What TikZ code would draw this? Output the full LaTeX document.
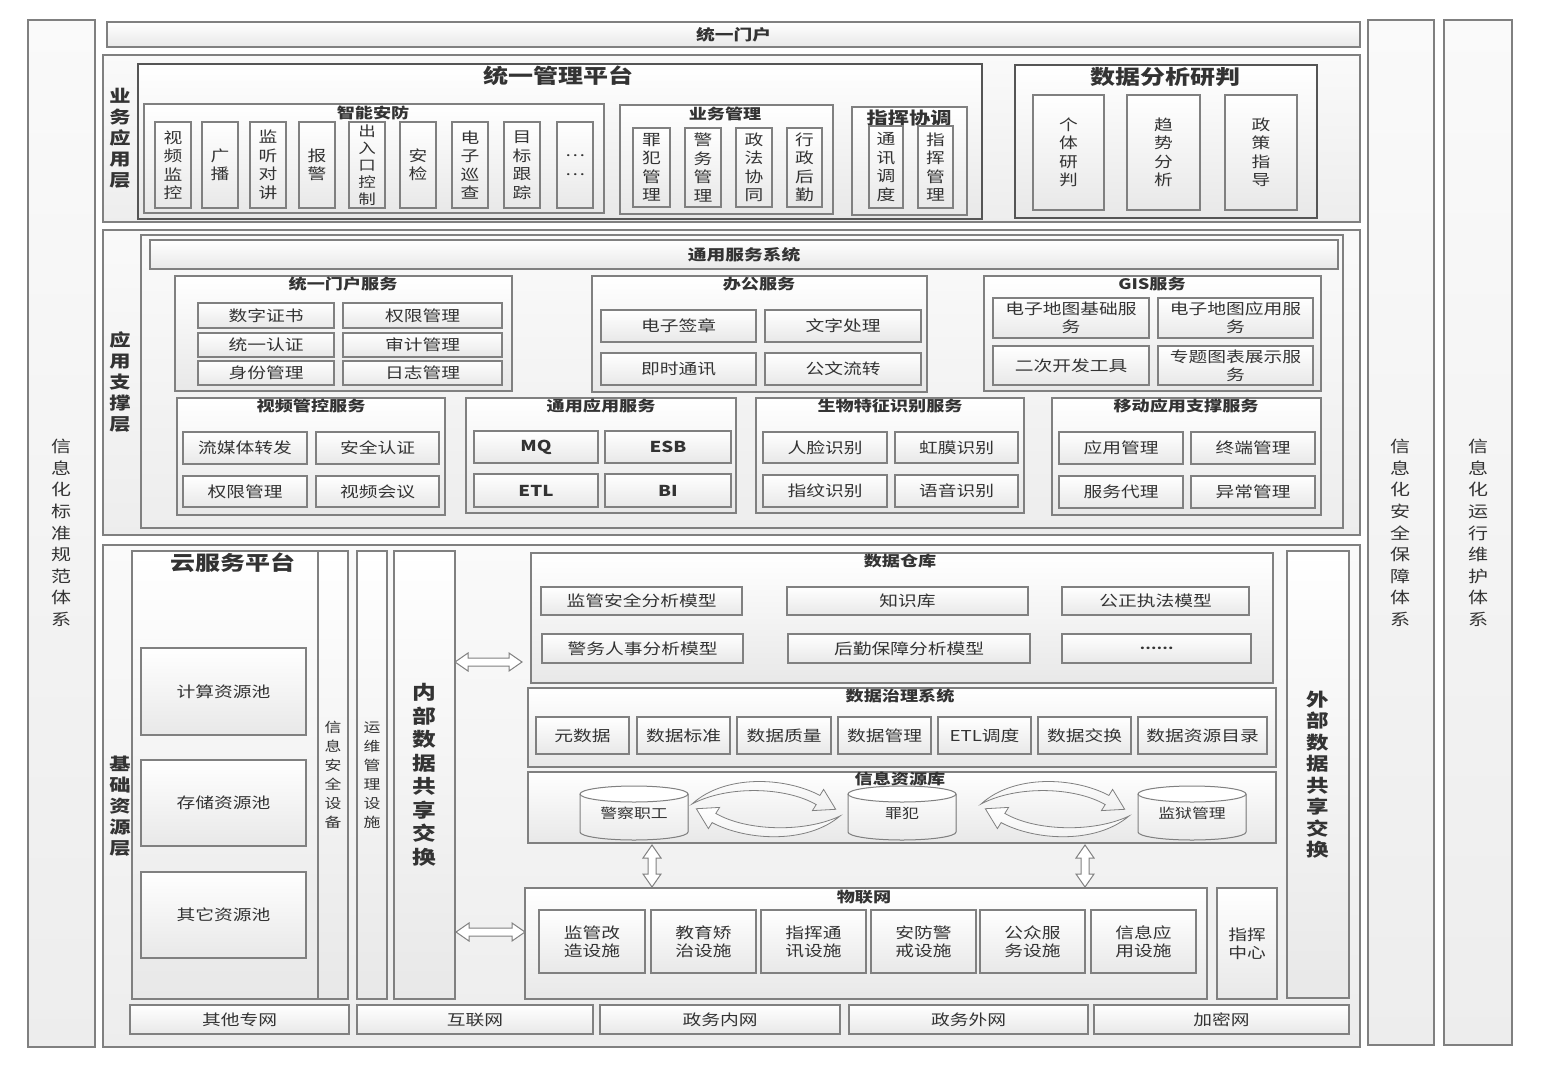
\documentclass[tikz,border=0pt]{standalone}
\usepackage{fontspec}
\setmainfont{Noto Sans CJK SC}[FakeStretch=1.25]
\usetikzlibrary{calc}
\definecolor{bc}{HTML}{808080}
\definecolor{tc}{HTML}{333333}
\definecolor{thk}{HTML}{555555}
\newcommand\fsz[2]{\fontsize{#1}{#2}\selectfont}
\newcommand\bx[7][]{\node[box,minimum width={#5-#3},minimum height={#6-#4},#1] (#2) at ({(#3+#5)/2},{(#4+#6)/2}) {#7};}
\newcommand\cyl[6]{%
 \pgfmathsetmacro\cylcx{(#2+#4)/2}\pgfmathsetmacro\cylrx{(#4-#2)/2}%
 \fill[top color=white,bottom color=black!8] (#2,#3+8) -- (#2,#5-8) arc[start angle=180,end angle=0,x radius=\cylrx,y radius=8] -- (#4,#3+8) arc[start angle=0,end angle=-180,x radius=\cylrx,y radius=8] -- cycle;
 \draw[draw=bc,line width=1pt] (#2,#3+8) -- (#2,#5-8) arc[start angle=180,end angle=0,x radius=\cylrx,y radius=8] -- (#4,#3+8);
 \draw[draw=bc,line width=1pt,fill=white] (\cylcx,#3+8) ellipse[x radius=\cylrx,y radius=8];
 \node[text=tc,font=\fsz{13.5}{16},inner sep=0pt] (#1) at (\cylcx,{(#3+#5)/2}) {#6};}
\newcommand\hdarrow[3]{\draw[blk] (#1,#3) -- (#1+13,#3-9) -- (#1+13,#3-4) -- (#2-13,#3-4) -- (#2-13,#3-9) -- (#2,#3) -- (#2-13,#3+9) -- (#2-13,#3+4) -- (#1+13,#3+4) -- (#1+13,#3+9) -- cycle;}
\newcommand\vdarrow[3]{\draw[blk] (#1,#2) -- (#1+9,#2+13) -- (#1+4,#2+13) -- (#1+4,#3-13) -- (#1+9,#3-13) -- (#1,#3) -- (#1-9,#3-13) -- (#1-4,#3-13) -- (#1-4,#2+13) -- (#1-9,#2+13) -- cycle;}
\newcommand\curvpair{%
\draw[carrow] (692,804) .. controls (725,774) and (785,777) .. (819.9,795.4) -- (823.6,789.4) -- (835.7,809.3) -- (812.4,810.6) -- (816.2,804.6) .. controls (786,787) and (728,785) .. (692,804) -- cycle;
\draw[carrow] (840,816) .. controls (807,844) and (747,841) .. (712.1,822.6) -- (708.4,828.6) -- (696.3,808.7) -- (719.6,807.4) -- (715.8,813.4) .. controls (746,831) and (804,833) .. (840,816) -- cycle;}
\begin{document}
\begin{tikzpicture}[x=1pt,y=-1pt,
 box/.style={draw=bc,line width=1.1pt,top color=white,bottom color=black!9,inner sep=0pt,outer sep=0pt,text=tc,font=\fsz{15}{19},align=center},
 pane/.style={line width=1.3pt,top color=black!2,bottom color=black!7},
 heavy/.style={draw=thk,line width=2.6pt},
 ttl/.style={text=tc,font=\bfseries\fsz{14.5}{18},inner sep=0pt},
 big/.style={text=black!80,font=\bfseries\fsz{20}{24},inner sep=0pt},
 lbl/.style={text=tc,font=\bfseries\fsz{17}{21},align=center,inner sep=0pt},
 side/.style={text=tc,font=\fsz{16}{21.6},align=center,inner sep=0pt},
 vt/.style={font=\fsz{15}{18.5}},
 blk/.style={draw=bc,line width=1pt,fill=white},
 carrow/.style={draw=bc,line width=0.8pt,top color=white,bottom color=black!6}]
\fill[white] (0,0) rectangle (1549,1066);
\useasboundingbox (0,0) rectangle (1549,1066);

% side strips
\bx[pane]{std}{28}{20}{95}{1047}{}
\node[side] (stdt) at (61,533) {信\\息\\化\\标\\准\\规\\范\\体\\系};
\bx[pane]{sec}{1368}{20}{1434}{1045}{}
\node[side] (sect) at (1400,533) {信\\息\\化\\安\\全\\保\\障\\体\\系};
\bx[pane]{ops}{1444}{20}{1512}{1045}{}
\node[side] (opst) at (1478,533) {信\\息\\化\\运\\行\\维\\护\\体\\系};

% top portal
\bx[font=\bfseries\fsz{15}{18}]{portal}{107}{22}{1360}{47}{统一门户}

% ===== layer 1 =====
\bx[pane]{L1}{103}{55}{1360}{222}{}
\node[lbl] (L1t) at (120,138) {业\\务\\应\\用\\层};
\bx[heavy]{umg}{138}{64}{982}{219}{}
\node[big] (umgt) at (558,76) {统一管理平台};
\bx{znaf}{144}{104}{604}{213}{}
\node[ttl] (znaft) at (373,113) {智能安防};
\bx[vt]{a1}{155}{122}{191}{208}{视\\频\\监\\控}
\bx[vt]{a2}{202}{122}{238}{208}{广\\播}
\bx[vt]{a3}{250}{122}{286}{208}{监\\听\\对\\讲}
\bx[vt]{a4}{299}{122}{335}{208}{报\\警}
\bx[font=\fsz{14}{17}]{a5}{349}{122}{385}{208}{出\\入\\口\\控\\制}
\bx[vt]{a6}{400}{122}{436}{208}{安\\检}
\bx[vt]{a7}{452}{122}{488}{208}{电\\子\\巡\\查}
\bx[vt]{a8}{504}{122}{540}{208}{目\\标\\跟\\踪}
\bx[vt]{a9}{557}{122}{593}{208}{…\\…}
\bx{ywgl}{620}{105}{833}{214}{}
\node[ttl] (ywglt) at (725,114) {业务管理};
\bx[vt]{b1}{633}{128}{670}{207}{罪\\犯\\管\\理}
\bx[vt]{b2}{685}{128}{721}{207}{警\\务\\管\\理}
\bx[vt]{b3}{736}{128}{772}{207}{政\\法\\协\\同}
\bx[vt]{b4}{787}{128}{822}{207}{行\\政\\后\\勤}
\bx{zhxt}{852}{107}{967}{215}{}
\node[ttl,font=\bfseries\fsz{17}{20}] (zhxtt) at (909,118) {指挥协调};
\bx[vt]{c1}{869}{126}{903}{208}{通\\讯\\调\\度}
\bx[vt]{c2}{918}{126}{953}{208}{指\\挥\\管\\理}
\bx[heavy]{sjfx}{1015}{65}{1317}{218}{}
\node[big] (sjfxt) at (1165,77) {数据分析研判};
\bx[vt]{d1}{1033}{95}{1104}{210}{个\\体\\研\\判}
\bx[vt]{d2}{1127}{95}{1200}{210}{趋\\势\\分\\析}
\bx[vt]{d3}{1225}{95}{1297}{210}{政\\策\\指\\导}

% ===== layer 2 =====
\bx[pane]{L2}{103}{230}{1360}{535}{}
\node[lbl] (L2t) at (120,382) {应\\用\\支\\撑\\层};
\bx[pane]{L2in}{141}{235}{1343}{528}{}
\bx[font=\bfseries\fsz{15}{18}]{tyfw}{150}{240}{1338}{269}{通用服务系统}
\bx{mhfw}{175}{276}{512}{391}{}
\node[ttl] (mhfwt) at (343,284) {统一门户服务};
\bx{e1}{198}{303}{334}{328}{数字证书}
\bx{e2}{343}{303}{502}{328}{权限管理}
\bx{e3}{198}{333}{334}{357}{统一认证}
\bx{e4}{343}{333}{502}{357}{审计管理}
\bx{e5}{198}{361}{334}{385}{身份管理}
\bx{e6}{343}{361}{502}{385}{日志管理}
\bx{bgfw}{592}{276}{927}{392}{}
\node[ttl] (bgfwt) at (759,284) {办公服务};
\bx{f1}{601}{310}{756}{342}{电子签章}
\bx{f2}{765}{310}{921}{342}{文字处理}
\bx{f3}{601}{353}{756}{385}{即时通讯}
\bx{f4}{765}{353}{921}{385}{公文流转}
\bx{gis}{984}{276}{1321}{391}{}
\node[ttl] (gist) at (1152,284) {GIS服务};
\bx[font=\fsz{15}{18}]{g1}{993}{298}{1149}{338}{电子地图基础服\\务}
\bx[font=\fsz{15}{18}]{g2}{1158}{298}{1313}{338}{电子地图应用服\\务}
\bx{g3}{993}{346}{1149}{385}{二次开发工具}
\bx[font=\fsz{15}{18}]{g4}{1158}{346}{1313}{385}{专题图表展示服\\务}
\bx{spgk}{177}{398}{445}{515}{}
\node[ttl] (spgkt) at (311,406) {视频管控服务};
\bx{h1}{183}{432}{307}{464}{流媒体转发}
\bx{h2}{316}{432}{439}{464}{安全认证}
\bx{h3}{183}{476}{307}{507}{权限管理}
\bx{h4}{316}{476}{439}{507}{视频会议}
\bx{tyyy}{466}{398}{736}{513}{}
\node[ttl] (tyyyt) at (601,406) {通用应用服务};
\bx[font=\bfseries\fsz{15}{18}]{i1}{474}{431}{598}{463}{MQ}
\bx[font=\bfseries\fsz{15}{18}]{i2}{605}{431}{731}{463}{ESB}
\bx[font=\bfseries\fsz{15}{18}]{i3}{474}{474}{598}{507}{ETL}
\bx[font=\bfseries\fsz{15}{18}]{i4}{605}{474}{731}{507}{BI}
\bx{swtz}{756}{398}{1024}{513}{}
\node[ttl] (swtzt) at (890,406) {生物特征识别服务};
\bx{j1}{763}{432}{887}{463}{人脸识别}
\bx{j2}{895}{432}{1018}{463}{虹膜识别}
\bx{j3}{763}{475}{887}{507}{指纹识别}
\bx{j4}{895}{475}{1018}{507}{语音识别}
\bx{ydyy}{1052}{398}{1321}{515}{}
\node[ttl] (ydyyt) at (1186,406) {移动应用支撑服务};
\bx{k1}{1059}{432}{1183}{464}{应用管理}
\bx{k2}{1191}{432}{1315}{464}{终端管理}
\bx{k3}{1059}{476}{1183}{508}{服务代理}
\bx{k4}{1191}{476}{1315}{508}{异常管理}

% ===== layer 3 =====
\bx[pane]{L3}{103}{545}{1360}{1047}{}
\node[lbl] (L3t) at (120,806) {基\\础\\资\\源\\层};
\bx{yfw}{132}{551}{318}{999}{}
\node[big] (yfwt) at (233,563) {云服务平台};
\bx{p1}{141}{648}{306}{735}{计算资源池}
\bx{p2}{141}{760}{306}{846}{存储资源池}
\bx{p3}{141}{872}{306}{958}{其它资源池}
\bx[font=\fsz{13.5}{19}]{xxaq}{318}{551}{348}{999}{信\\息\\安\\全\\设\\备}
\bx[font=\fsz{13.5}{19}]{ywss}{357}{551}{387}{999}{运\\维\\管\\理\\设\\施}
\bx[font=\bfseries\fsz{19}{23.5}]{nbsj}{394}{551}{455}{999}{内\\部\\数\\据\\共\\享\\交\\换}

\bx{sjck}{531}{553}{1273}{683}{}
\node[ttl] (sjckt) at (900,561) {数据仓库};
\bx{m1}{541}{587}{742}{615}{监管安全分析模型}
\bx{m2}{787}{587}{1028}{615}{知识库}
\bx{m3}{1062}{587}{1249}{615}{公正执法模型}
\bx{m4}{542}{634}{743}{663}{警务人事分析模型}
\bx{m5}{788}{634}{1030}{663}{后勤保障分析模型}
\bx[font=\bfseries\fsz{12}{14}]{m6}{1062}{634}{1251}{663}{……}

\bx{sjzl}{528}{688}{1276}{767}{}
\node[ttl] (sjzlt) at (900,696) {数据治理系统};
\bx{n1}{536}{717}{629}{754}{元数据}
\bx{n2}{637}{717}{730}{754}{数据标准}
\bx{n3}{737}{717}{831}{754}{数据质量}
\bx{n4}{838}{717}{931}{754}{数据管理}
\bx{n5}{938}{717}{1031}{754}{ETL调度}
\bx{n6}{1038}{717}{1131}{754}{数据交换}
\bx{n7}{1138}{717}{1267}{754}{数据资源目录}

\bx{xxzy}{528}{772}{1276}{843}{}
\node[ttl] (xxzyt) at (900,779) {信息资源库};
\cyl{q1}{580}{786}{688}{840}{警察职工}
\cyl{q2}{848}{786}{956}{840}{罪犯}
\cyl{q3}{1138}{786}{1246}{840}{监狱管理}
\curvpair
\begin{scope}[xshift=289pt]\curvpair\end{scope}

\bx{wlw}{525}{888}{1207}{999}{}
\node[ttl] (wlwt) at (864,897) {物联网};
\bx[font=\fsz{15}{18}]{r1}{539}{910}{645}{973}{监管改\\造设施}
\bx[font=\fsz{15}{18}]{r2}{651}{910}{756}{973}{教育矫\\治设施}
\bx[font=\fsz{15}{18}]{r3}{761}{910}{866}{973}{指挥通\\讯设施}
\bx[font=\fsz{15}{18}]{r4}{871}{910}{976}{973}{安防警\\戒设施}
\bx[font=\fsz{15}{18}]{r5}{980}{910}{1085}{973}{公众服\\务设施}
\bx[font=\fsz{15}{18}]{r6}{1091}{910}{1196}{973}{信息应\\用设施}
\bx[font=\fsz{15}{18}]{zhzx}{1217}{888}{1277}{999}{指挥\\中心}
\bx[font=\bfseries\fsz{18}{21.5}]{wbsj}{1287}{551}{1349}{998}{外\\部\\数\\据\\共\\享\\交\\换}

\bx{s1}{130}{1005}{349}{1034}{其他专网}
\bx{s2}{357}{1005}{593}{1034}{互联网}
\bx{s3}{600}{1005}{840}{1034}{政务内网}
\bx{s4}{849}{1005}{1088}{1034}{政务外网}
\bx{s5}{1094}{1005}{1349}{1034}{加密网}

% block arrows
\hdarrow{455}{522}{662}
\hdarrow{456}{525}{932}
\vdarrow{652}{845}{887}
\vdarrow{1085}{845}{887}
\end{tikzpicture}
\end{document}
